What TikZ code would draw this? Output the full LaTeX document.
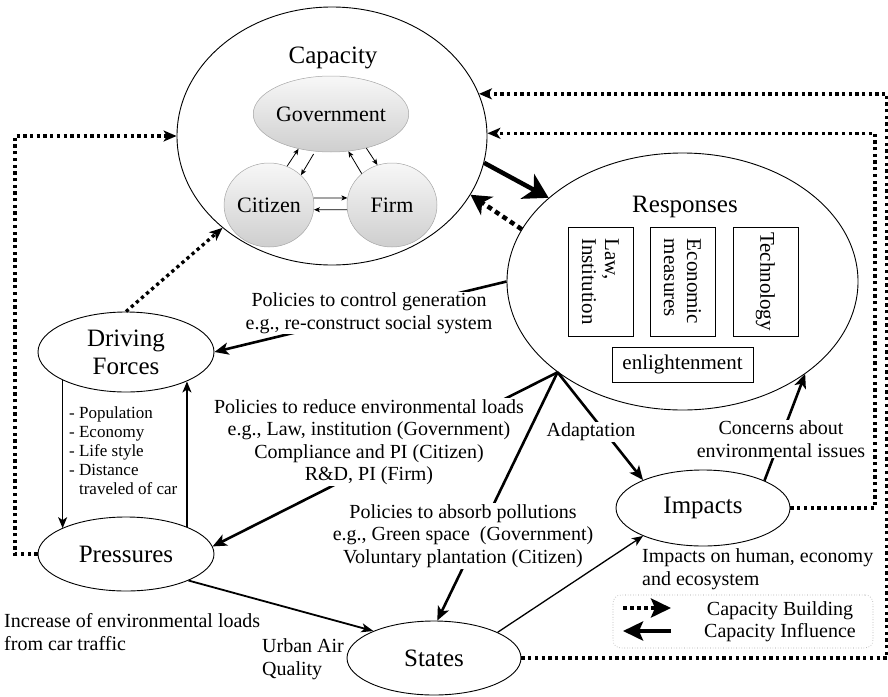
\documentclass[tikz,border=0pt]{standalone}
\usepackage{fontspec}
\setmainfont{Liberation Serif}
\usetikzlibrary{shapes.geometric,arrows.meta,calc}
\begin{document}
\begin{tikzpicture}[x=1pt,y=-1pt,
  ell/.style={draw, ellipse, inner sep=0pt, line width=0.9pt},
  agent/.style={draw=gray!70, ellipse, inner sep=0pt, top color=gray!6, bottom color=gray!38, line width=0.5pt, font=\fontsize{22}{24}\selectfont},
  ttl/.style={font=\fontsize{25}{28}\selectfont, align=center},
  lbl/.style={font=\fontsize{20}{22.5}\selectfont, align=center, fill=white, inner sep=1pt},
  txt/.style={font=\fontsize{20}{22.5}\selectfont, align=left, inner sep=0pt},
  infl/.style={line width=2.6pt, -{Stealth[length=14pt,width=12pt,inset=3.5pt]}},
  thinarr/.style={line width=1.3pt, -{Stealth[length=11pt,width=9pt,inset=3pt]}},
  smallarr/.style={line width=0.8pt, -{Stealth[length=6pt,width=5pt,inset=1.5pt]}},
  cb/.style={line width=3.3pt, dash pattern=on 3.3pt off 3.4pt, -{Stealth[length=13pt,width=11pt,inset=3.5pt]}},
  rbox/.style={draw, line width=0.7pt, inner sep=0pt, font=\fontsize{21}{23}\selectfont}
]
\useasboundingbox (0,0) rectangle (888,696);

% ---- main nodes
\node[ell, minimum width=310pt, minimum height=258pt] (cap) at (332,136) {};
\node[ttl] (capt) at (333,58) {Capacity};
\node[agent, minimum width=144pt, minimum height=76pt] (gov) at (331,114) {Government};
\node[agent, minimum width=88pt, minimum height=84pt] (cit) at (269,205) {Citizen};
\node[agent, minimum width=90pt, minimum height=84pt] (fi) at (392,205) {Firm};

\node[ell, minimum width=351pt, minimum height=257pt] (resp) at (682.5,281.5) {};
\node[ttl] (respt) at (685,207) {Responses};
\node[rbox, rotate=-90, minimum width=109pt, minimum height=65pt, align=left] (law) at (600.5,281.5) {Law,\\Institution};
\node[rbox, rotate=-90, minimum width=109pt, minimum height=65pt, align=left] (eco) at (682.5,281.5) {Economic\\measures};
\node[rbox, rotate=-90, minimum width=109pt, minimum height=65pt] (tech) at (765.5,281.5) {Technology};
\node[rbox, minimum width=141pt, minimum height=35pt] (enl) at (682.5,364.5) {enlightenment};

\node[ell, ttl, minimum width=176pt, minimum height=80pt] (df) at (126,352) {Driving\\Forces};
\node[ell, ttl, minimum width=176pt, minimum height=74pt] (pr) at (126,554) {Pressures};
\node[ell, ttl, minimum width=174pt, minimum height=74pt] (st) at (434,658) {States};
\node[ell, ttl, minimum width=174pt, minimum height=76pt] (imp) at (703,508) {Impacts};

\coordinate (lx) at (15,0);
\coordinate (rx1) at (875,0);
\coordinate (rx2) at (887,0);

% ---- arrows inside capacity
\draw[smallarr] (cit.65) -- (gov.227);
\draw[smallarr, shorten <=3pt] (gov.247) -- (cit.43);
\draw[smallarr] (fi.134) -- (gov.-65);
\draw[smallarr] (gov.-44) -- (fi.110);
\draw[smallarr] (cit.9) -- (fi.171);
\draw[smallarr] (fi.186) -- (cit.-6);

% ---- capacity building (dotted)
\draw[cb] (df.north) -- (cap.220);
\draw[cb] (pr.west) -- (pr.west -| lx) -- (cap.west -| lx) -- (cap.west);
\draw[cb] (imp.east) -- (imp.east -| rx1) -- (cap.1 -| rx1) -- (cap.1);
\draw[cb] (st.east) -- (st.east -| rx2) -- (cap.16 -| rx2) -- (cap.16);

% ---- capacity <-> responses
\draw[line width=4.5pt, -{Stealth[length=24pt,width=28pt,inset=7pt]}] (cap.-10) -- (resp.148);
\draw[line width=4.5pt, dash pattern=on 5pt off 4pt, -{Stealth[length=20pt,width=22pt,inset=6pt]}] (resp.162) -- (cap.-23);

% ---- influence arrows with labels
\draw[infl] (resp.west) -- (df.east);
\node[lbl] (l1) at (369,313) {Policies to control generation\\e.g., re-construct social system};
\draw[infl] (resp.216) -- (pr.5);
\node[lbl] (l2) at (369,442) {Policies to reduce environmental loads\\e.g., Law, institution (Government)\\Compliance and PI (Citizen)\\R\&D, PI (Firm)};
\draw[infl] (resp.216) -- (st.85);
\node[lbl] (l3) at (463,536) {Policies to absorb pollutions\\e.g., Green space\ \ (Government)\\Voluntary plantation (Citizen)};
\draw[infl] (resp.216) -- (imp.155);
\node[lbl] (l4) at (591,432) {Adaptation};
\draw[infl] (imp.24) -- (resp.-37);
\node[lbl] (l5) at (781,439) {Concerns about\\environmental issues};

% ---- DPSIR chain
\draw[thinarr] (df.204) -- (df.204 |- pr.158);
\draw[thinarr] (pr.24) -- (pr.24 |- df.-26);
\draw[line width=1.8pt, -{Stealth[length=12pt,width=9pt,inset=3pt]}] (pr.-23) -- (st.156);
\draw[line width=1.3pt, -{Stealth[length=11pt,width=9pt,inset=3pt]}] (st.22) -- (imp.205);

% ---- free texts
\node[font=\fontsize{17}{19}\selectfont, align=left, anchor=west, inner sep=0pt] (lst) at (69,451) {- Population\\- Economy\\- Life style\\- Distance\\\phantom{- }traveled of car};
\node[txt, anchor=west] (l6) at (4,632) {Increase of environmental loads\\from car traffic};
\node[txt, anchor=west] (l7) at (262,659) {Urban Air\\Quality};
\node[txt, anchor=west] (l8) at (642,569) {Impacts on human, economy\\and ecosystem};

% ---- legend
\node[draw=gray!80, dotted, rounded corners=8pt, minimum width=260pt, minimum height=53pt, line width=0.6pt] (leg) at (743,621.5) {};
\coordinate (la1) at (623,608);
\coordinate (la2) at (671,608);
\coordinate (lb1) at (671,631);
\coordinate (lb2) at (623,631);
\draw[line width=4pt, dash pattern=on 4pt off 3pt, -{Stealth[length=20pt,width=19pt,inset=4pt]}] (la1) -- (la2);
\draw[line width=4pt, -{Stealth[length=20pt,width=19pt,inset=4pt]}] (lb1) -- (lb2);
\node[font=\fontsize{20}{22.5}\selectfont] (lt1) at (780,611) {Capacity Building};
\node[font=\fontsize{20}{22.5}\selectfont] (lt2) at (780,633) {Capacity Influence};
\end{tikzpicture}
\end{document}
